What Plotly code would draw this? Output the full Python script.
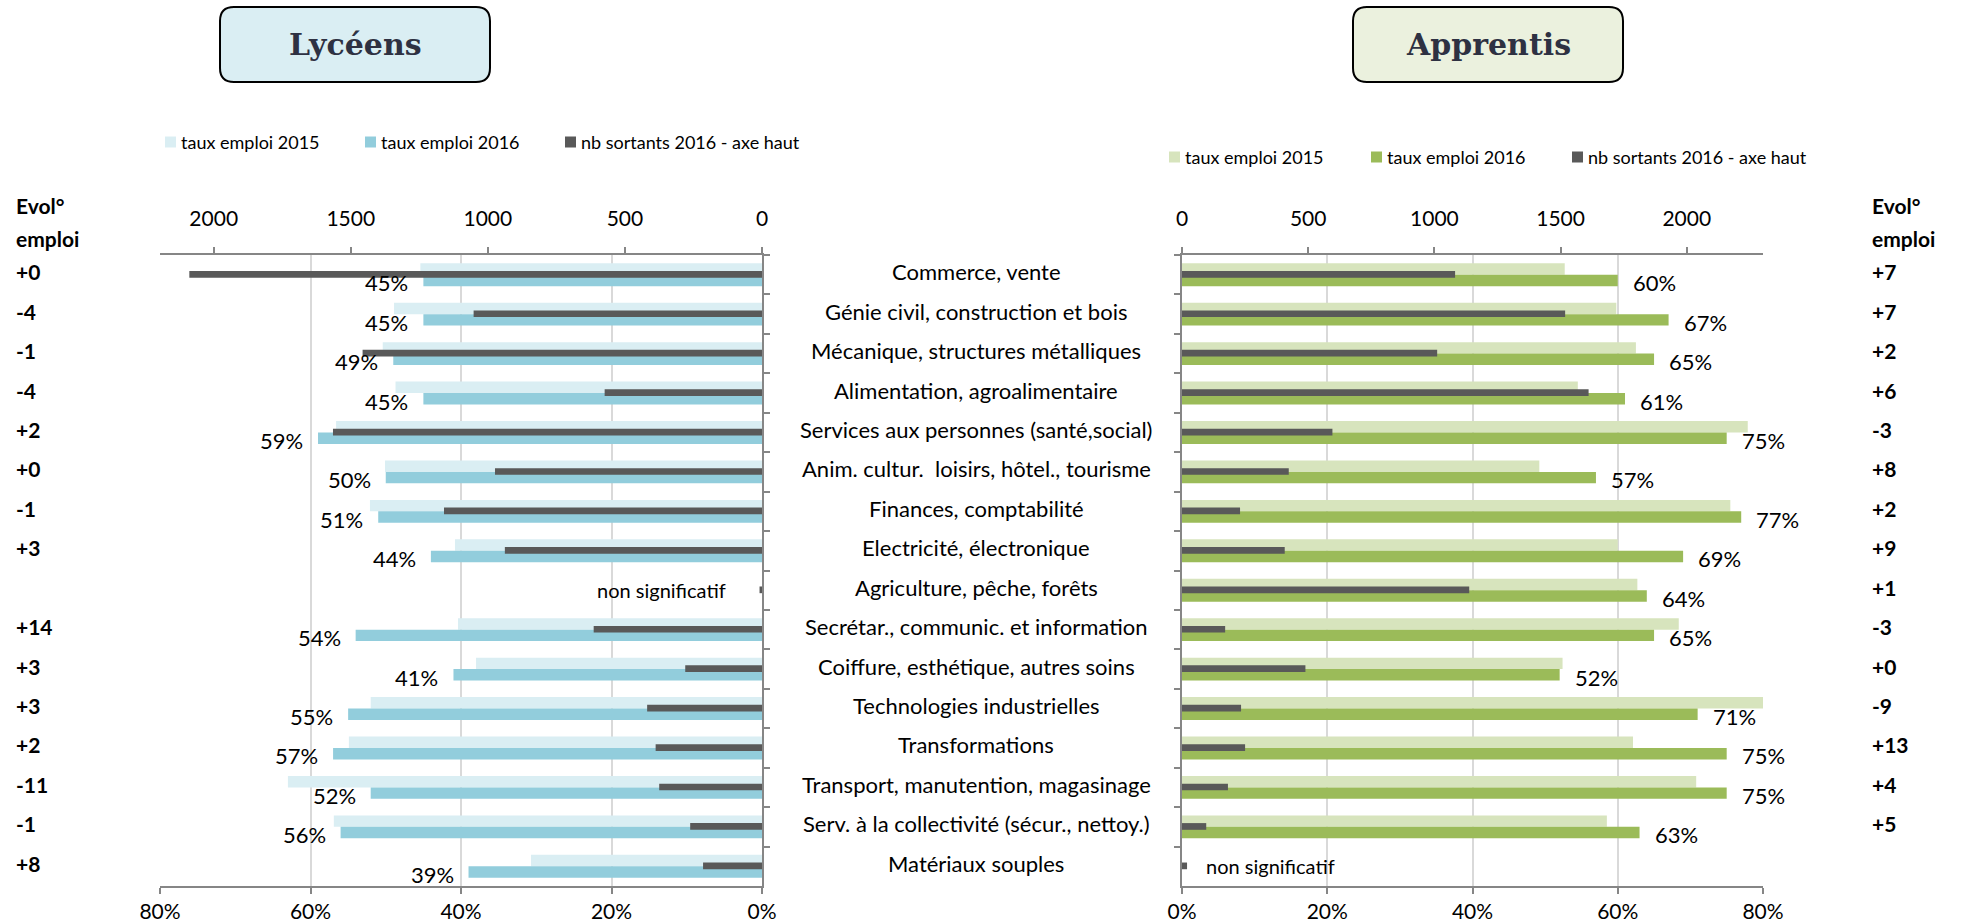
import plotly.graph_objects as go

W, H = 1968, 923

categories = [
    "Commerce, vente",
    "Génie civil, construction et bois",
    "Mécanique, structures métalliques",
    "Alimentation, agroalimentaire",
    "Services aux personnes (santé,social)",
    "Anim. cultur.  loisirs, hôtel., tourisme",
    "Finances, comptabilité",
    "Electricité, électronique",
    "Agriculture, pêche, forêts",
    "Secrétar., communic. et information",
    "Coiffure, esthétique, autres soins",
    "Technologies industrielles",
    "Transformations",
    "Transport, manutention, magasinage",
    "Serv. à la collectivité (sécur., nettoy.)",
    "Matériaux souples",
]

# Lycéens
lyc_2015 = [45.4, 48.9, 50.4, 48.7, 56.6, 50.1, 52.1, 40.8, None, 40.4, 38.0, 52.0, 54.9, 63.0, 56.9, 30.7]
lyc_2016 = [45, 45, 49, 45, 59, 50, 51, 44, None, 54, 41, 55, 57, 52, 56, 39]
lyc_sortants = [2089, 1052, 1457, 574, 1565, 974, 1160, 938, 9, 614, 280, 419, 388, 375, 262, 215]
lyc_evol = ["+0", "-4", "-1", "-4", "+2", "+0", "-1", "+3", "", "+14", "+3", "+3", "+2", "-11", "-1", "+8"]

# Apprentis
app_2015 = [52.7, 59.8, 62.5, 54.5, 77.9, 49.2, 75.5, 60.0, 62.7, 68.4, 52.4, 80.0, 62.1, 70.8, 58.5, None]
app_2016 = [60, 67, 65, 61, 75, 57, 77, 69, 64, 65, 52, 71, 75, 75, 63, None]
app_sortants = [1082, 1518, 1011, 1611, 596, 423, 230, 407, 1138, 171, 489, 234, 250, 182, 96, 20]
app_evol = ["+7", "+7", "+2", "+6", "-3", "+8", "+2", "+9", "+1", "-3", "+0", "-9", "+13", "+4", "+5", ""]

pct_ticks = [0, 20, 40, 60, 80]
nb_ticks = [0, 500, 1000, 1500, 2000]
legend_labels = ["taux emploi 2015", "taux emploi 2016", "nb sortants 2016 - axe haut"]

C_L15, C_L16 = "#DAEEF3", "#92CDDC"
C_A15, C_A16 = "#D7E4BD", "#9BBB59"
C_DARK = "#595959"
AXC = "#868686"
GRID = "#D9D9D9"
FONT = "Lato"


def px(x):
    return x / W


def py(y):
    return 1 - y / H


fig = go.Figure()

bw, dw = 0.29, 0.17
# Left panel (Lycéens)
fig.add_trace(go.Bar(x=lyc_2015, y=categories, orientation="h", xaxis="x", yaxis="y",
                     marker=dict(color=C_L15, line=dict(width=0)), width=bw, offset=-bw,
                     showlegend=False, hoverinfo="x+y"))
fig.add_trace(go.Bar(x=lyc_2016, y=categories, orientation="h", xaxis="x", yaxis="y",
                     marker=dict(color=C_L16, line=dict(width=0)), width=bw, offset=0,
                     showlegend=False, hoverinfo="x+y"))
fig.add_trace(go.Bar(x=lyc_sortants, y=categories, orientation="h", xaxis="x2", yaxis="y",
                     marker=dict(color=C_DARK, line=dict(width=0)), width=dw, offset=-0.095,
                     showlegend=False, hoverinfo="x+y"))
# Right panel (Apprentis)
fig.add_trace(go.Bar(x=app_2015, y=categories, orientation="h", xaxis="x3", yaxis="y2",
                     marker=dict(color=C_A15, line=dict(width=0)), width=bw, offset=-bw,
                     showlegend=False, hoverinfo="x+y"))
fig.add_trace(go.Bar(x=app_2016, y=categories, orientation="h", xaxis="x3", yaxis="y2",
                     marker=dict(color=C_A16, line=dict(width=0)), width=bw, offset=0,
                     showlegend=False, hoverinfo="x+y"))
fig.add_trace(go.Bar(x=app_sortants, y=categories, orientation="h", xaxis="x4", yaxis="y2",
                     marker=dict(color=C_DARK, line=dict(width=0)), width=dw, offset=-0.095,
                     showlegend=False, hoverinfo="x+y"))

tickfont = dict(family=FONT, size=21, color="#000000")
left_dom = [px(160), px(762)]
right_dom = [px(1182), px(1763)]
ydom = [py(886), py(255)]
nrange = [len(categories) - 0.5, -0.5]

pct_axis = dict(tickvals=pct_ticks, ticktext=[f"{t}%" for t in pct_ticks], showgrid=True,
                gridcolor=GRID, gridwidth=1.5, showline=True, linecolor=AXC, linewidth=1.5,
                ticks="outside", ticklen=6, tickcolor=AXC, tickwidth=1.5, zeroline=False,
                tickfont=tickfont, fixedrange=True, automargin=False)
nb_axis = dict(tickvals=nb_ticks, showgrid=False, showline=True, linecolor=AXC, linewidth=1.5,
               ticks="outside", ticklen=6, tickcolor=AXC, tickwidth=1.5, zeroline=False,
               tickfont=tickfont, side="top", fixedrange=True, automargin=False,
               ticklabelstandoff=13)
cat_axis = dict(type="category", categoryorder="array", categoryarray=categories, range=nrange,
                showticklabels=False, showgrid=False, showline=True, linecolor=AXC, linewidth=1.5,
                ticks="outside", tickson="boundaries", ticklen=6, tickcolor=AXC, tickwidth=1.5,
                domain=ydom, zeroline=False, fixedrange=True, automargin=False)

fig.update_layout(
    template="none",
    width=W, height=H, margin=dict(l=0, r=0, t=0, b=0, pad=0),
    paper_bgcolor="white", plot_bgcolor="rgba(0,0,0,0)",
    barmode="overlay", showlegend=False,
    font=dict(family=FONT, size=21, color="#000000"),
    xaxis=dict(pct_axis, domain=left_dom, range=[80, 0], anchor="y"),
    xaxis2=dict(nb_axis, overlaying="x", range=[2196, 0], anchor="y"),
    yaxis=dict(cat_axis, anchor="x", side="right"),
    xaxis3=dict(pct_axis, domain=right_dom, range=[0, 80], anchor="y2"),
    xaxis4=dict(nb_axis, overlaying="x3", range=[0, 2302], anchor="y2"),
    yaxis2=dict(cat_axis, anchor="x3", side="left"),
)

ann = []
lab_font = dict(family=FONT, size=22, color="#000000")
# data labels 2016
for c, v in zip(categories, lyc_2016):
    if v is not None:
        ann.append(dict(x=v, y=c, xref="x", yref="y", text=f"{v}%", showarrow=False,
                        xanchor="right", yanchor="middle", xshift=-13, yshift=-8, font=lab_font))
for c, v in zip(categories, app_2016):
    if v is not None:
        ann.append(dict(x=v, y=c, xref="x3", yref="y2", text=f"{v}%", showarrow=False,
                        xanchor="left", yanchor="middle", xshift=13, yshift=-8, font=lab_font))
# non significatif
ns_font = dict(family=FONT, size=20, color="#000")
for c, v in zip(categories, lyc_2016):
    if v is None:
        ann.append(dict(x=0, y=c, xref="x", yref="y", text="non significatif", showarrow=False,
                        xanchor="right", yanchor="middle", xshift=-34, font=ns_font))
for c, v in zip(categories, app_2016):
    if v is None:
        ann.append(dict(x=0, y=c, xref="x3", yref="y2", text="non significatif", showarrow=False,
                        xanchor="left", yanchor="middle", xshift=22, font=ns_font))
# category labels
for c in categories:
    ann.append(dict(x=px(976), y=c, xref="paper", yref="y", text=c, showarrow=False,
                    xanchor="center", yanchor="middle", yshift=3, font=lab_font))
# evolution columns
ev_font = dict(family=FONT, size=21, color="#000000")
for c, e in zip(categories, lyc_evol):
    if e:
        ann.append(dict(x=px(14), y=c, xref="paper", yref="y", text=f"<b>{e}</b>", showarrow=False,
                        xanchor="left", yanchor="middle", yshift=3, font=ev_font))
for c, e in zip(categories, app_evol):
    if e:
        ann.append(dict(x=px(1870), y=c, xref="paper", yref="y", text=f"<b>{e}</b>", showarrow=False,
                        xanchor="left", yanchor="middle", yshift=3, font=ev_font))
for xx in (14, 1870):
    ann.append(dict(x=px(xx), y=py(205), xref="paper", yref="paper", text="<b>Evol°</b>",
                    showarrow=False, xanchor="left", yanchor="middle", font=ev_font))
    ann.append(dict(x=px(xx), y=py(238), xref="paper", yref="paper", text="<b>emploi</b>",
                    showarrow=False, xanchor="left", yanchor="middle", font=ev_font))

# titles
title_font = dict(family="DejaVu Serif", size=30, color="#2E3142")
ann.append(dict(x=px(355), y=py(45), xref="paper", yref="paper", text="<b>Lycéens</b>",
                showarrow=False, xanchor="center", yanchor="middle", font=title_font))
ann.append(dict(x=px(1488), y=py(45), xref="paper", yref="paper", text="<b>Apprentis</b>",
                showarrow=False, xanchor="center", yanchor="middle", font=title_font))

shapes = []


def rbox(x0, y0, x1, y1, r, fill):
    pts = [
        ("M", (x0 + r, y0)), ("L", (x1 - r, y0)), ("Q", (x1, y0), (x1, y0 + r)),
        ("L", (x1, y1 - r)), ("Q", (x1, y1), (x1 - r, y1)), ("L", (x0 + r, y1)),
        ("Q", (x0, y1), (x0, y1 - r)), ("L", (x0, y0 + r)), ("Q", (x0, y0), (x0 + r, y0)),
    ]
    s = ""
    for p in pts:
        s += p[0] + " " + " ".join(f"{px(a):.5f},{py(b):.5f}" for a, b in p[1:]) + " "
    s += "Z"
    return dict(type="path", path=s, xref="paper", yref="paper", fillcolor=fill,
                line=dict(color="#000000", width=2), layer="below")


shapes.append(rbox(220, 7, 490, 82, 14, "#DAEEF3"))
shapes.append(rbox(1353, 7, 1623, 82, 14, "#EBF1DE"))

# legends
leg_font = dict(family=FONT, size=18, color="#000000")


def legend(x_markers, y, colors):
    for xm, col, lab in zip(x_markers, colors, legend_labels):
        shapes.append(dict(type="rect", xref="paper", yref="paper", x0=px(xm), x1=px(xm + 11),
                           y0=py(y + 5.5), y1=py(y - 5.5), fillcolor=col, line=dict(width=0)))
        ann.append(dict(x=px(xm + 14), y=py(y), xref="paper", yref="paper", text=lab,
                        showarrow=False, xanchor="left", yanchor="middle", font=leg_font))


legend([165, 365, 565], 142, [C_L15, C_L16, C_DARK])
legend([1169, 1371, 1572], 157, [C_A15, C_A16, C_DARK])

fig.update_layout(annotations=ann, shapes=shapes)
fig.write_html(
    "out.html",
    config={"displayModeBar": False},
    post_script="document.body.style.margin='0';document.body.style.overflow='hidden';",
)
